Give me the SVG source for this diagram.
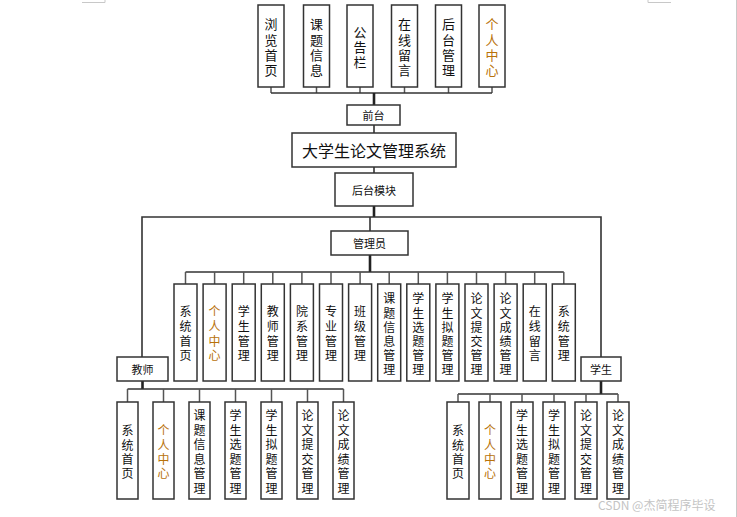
<svg xmlns="http://www.w3.org/2000/svg" width="737" height="517" viewBox="0 0 737 517">
<style>
text, tspan { font-family: "Noto Sans CJK SC", "Noto Sans", sans-serif; fill: #111; dominant-baseline: central; text-anchor: middle; }
.box { fill: #fff; stroke: #333; stroke-width: 1.5; }
.v { font-size: 12px; }
.vt { font-size: 13px; }
.h { font-size: 11px; }
.title { font-size: 16px; }
.o, .o tspan { fill: #b8720a; }
.bus { stroke: #333; stroke-width: 1.6; fill: none; }
.trunk { stroke: #222; stroke-width: 2.6; fill: none; }
.stub { stroke: #555; stroke-width: 1.5; fill: none; }
.edge { stroke: #c8c8c8; stroke-width: 1; fill: none; }
.wm { font-size: 12px; fill: #c4c4c4; text-anchor: start; }
</style>
<rect x="0" y="0" width="737" height="517" fill="#fff"/>
<g id="page-marks">
<path class="edge" d="M82,2.5 H105 V0 M648,0 V2.5 H671 M736.5,0 V517"/>
</g>
<g id="connectors">
<path class="stub" d="M271,87 V93 M316.5,87 V93 M360,87 V93 M404.5,87 V93 M448.5,87 V93 M492,87 V93"/>
<path class="bus" d="M271,93 H492"/>
<path class="trunk" d="M374,93 V105"/>
<path class="bus" d="M374,125 V133 M374,167 V173"/>
<path class="trunk" d="M374,206 V217"/>
<path class="bus" d="M142,357 V217 H601 V357 M370,217 V231"/>
<path class="trunk" d="M370,255 V272"/>
<path class="bus" d="M185.5,272 H563.8"/>
<path class="stub" d="M185.5,272 V284 M214.6,272 V284 M243.7,272 V284 M272.8,272 V284 M301.9,272 V284 M331,272 V284 M360.1,272 V284 M389.2,272 V284 M418.3,272 V284 M447.4,272 V284 M476.5,272 V284 M505.6,272 V284 M534.7,272 V284 M563.8,272 V284"/>
<path class="trunk" d="M142.5,381 V389"/>
<path class="bus" d="M127.5,389 H343.5"/>
<path class="stub" d="M127.5,389 V402 M163.5,389 V402 M199.5,389 V402 M235.5,389 V402 M271.5,389 V402 M307.5,389 V402 M343.5,389 V402"/>
<path class="trunk" d="M601,381 V394"/>
<path class="bus" d="M458,394 H618"/>
<path class="stub" d="M458,394 V402 M490,394 V402 M522,394 V402 M554,394 V402 M586,394 V402 M618,394 V402"/>
</g>

<g id="n-top1"><rect class="box" x="258" y="5" width="26" height="82"/><text class="vt" x="271" y="23.5">浏<tspan x="271" dy="15">览</tspan><tspan x="271" dy="15">首</tspan><tspan x="271" dy="15">页</tspan></text></g>
<g id="n-top2"><rect class="box" x="303.5" y="5" width="26" height="82"/><text class="vt" x="316.5" y="23.5">课<tspan x="316.5" dy="15">题</tspan><tspan x="316.5" dy="15">信</tspan><tspan x="316.5" dy="15">息</tspan></text></g>
<g id="n-top3"><rect class="box" x="347" y="5" width="26" height="82"/><text class="vt" x="360" y="31">公<tspan x="360" dy="15">告</tspan><tspan x="360" dy="15">栏</tspan></text></g>
<g id="n-top4"><rect class="box" x="391.5" y="5" width="26" height="82"/><text class="vt" x="404.5" y="23.5">在<tspan x="404.5" dy="15">线</tspan><tspan x="404.5" dy="15">留</tspan><tspan x="404.5" dy="15">言</tspan></text></g>
<g id="n-top5"><rect class="box" x="435.5" y="5" width="26" height="82"/><text class="vt" x="448.5" y="23.5">后<tspan x="448.5" dy="15">台</tspan><tspan x="448.5" dy="15">管</tspan><tspan x="448.5" dy="15">理</tspan></text></g>
<g id="n-top6"><rect class="box" x="479" y="5" width="26" height="82"/><text class="vt o" x="492" y="23.5">个<tspan x="492" dy="15">人</tspan><tspan x="492" dy="15">中</tspan><tspan x="492" dy="15">心</tspan></text></g>

<g id="n-qiantai"><rect class="box" x="347" y="105" width="53" height="20"/><text class="h" x="373.5" y="115">前台</text></g>
<g id="n-main"><rect class="box" x="292" y="133" width="164" height="34"/><text class="title" x="374" y="150">大学生论文管理系统</text></g>
<g id="n-houtai"><rect class="box" x="335" y="173" width="78" height="33"/><text class="h" x="374" y="189.5">后台模块</text></g>
<g id="n-admin"><rect class="box" x="331" y="231" width="77" height="24"/><text class="h" x="369.5" y="243">管理员</text></g>
<g id="n-teacher"><rect class="box" x="117" y="357" width="51" height="24"/><text class="h" x="142.5" y="369">教师</text></g>
<g id="n-student"><rect class="box" x="581" y="357" width="40" height="24"/><text class="h" x="601" y="369">学生</text></g>

<g id="n-a1"><rect class="box" x="174" y="284" width="23" height="97"/><text class="v" x="185.5" y="310.75">系<tspan x="185.5" dy="14.5">统</tspan><tspan x="185.5" dy="14.5">首</tspan><tspan x="185.5" dy="14.5">页</tspan></text></g>
<g id="n-a2"><rect class="box" x="203.1" y="284" width="23" height="97"/><text class="v o" x="214.6" y="310.75">个<tspan x="214.6" dy="14.5">人</tspan><tspan x="214.6" dy="14.5">中</tspan><tspan x="214.6" dy="14.5">心</tspan></text></g>
<g id="n-a3"><rect class="box" x="232.2" y="284" width="23" height="97"/><text class="v" x="243.7" y="310.75">学<tspan x="243.7" dy="14.5">生</tspan><tspan x="243.7" dy="14.5">管</tspan><tspan x="243.7" dy="14.5">理</tspan></text></g>
<g id="n-a4"><rect class="box" x="261.3" y="284" width="23" height="97"/><text class="v" x="272.8" y="310.75">教<tspan x="272.8" dy="14.5">师</tspan><tspan x="272.8" dy="14.5">管</tspan><tspan x="272.8" dy="14.5">理</tspan></text></g>
<g id="n-a5"><rect class="box" x="290.4" y="284" width="23" height="97"/><text class="v" x="301.9" y="310.75">院<tspan x="301.9" dy="14.5">系</tspan><tspan x="301.9" dy="14.5">管</tspan><tspan x="301.9" dy="14.5">理</tspan></text></g>
<g id="n-a6"><rect class="box" x="319.5" y="284" width="23" height="97"/><text class="v" x="331" y="310.75">专<tspan x="331" dy="14.5">业</tspan><tspan x="331" dy="14.5">管</tspan><tspan x="331" dy="14.5">理</tspan></text></g>
<g id="n-a7"><rect class="box" x="348.6" y="284" width="23" height="97"/><text class="v" x="360.1" y="310.75">班<tspan x="360.1" dy="14.5">级</tspan><tspan x="360.1" dy="14.5">管</tspan><tspan x="360.1" dy="14.5">理</tspan></text></g>
<g id="n-a8"><rect class="box" x="377.7" y="284" width="23" height="97"/><text class="v" x="389.2" y="297.5">课<tspan x="389.2" dy="14">题</tspan><tspan x="389.2" dy="14">信</tspan><tspan x="389.2" dy="14">息</tspan><tspan x="389.2" dy="14">管</tspan><tspan x="389.2" dy="14">理</tspan></text></g>
<g id="n-a9"><rect class="box" x="406.8" y="284" width="23" height="97"/><text class="v" x="418.3" y="297.5">学<tspan x="418.3" dy="14">生</tspan><tspan x="418.3" dy="14">选</tspan><tspan x="418.3" dy="14">题</tspan><tspan x="418.3" dy="14">管</tspan><tspan x="418.3" dy="14">理</tspan></text></g>
<g id="n-a10"><rect class="box" x="435.9" y="284" width="23" height="97"/><text class="v" x="447.4" y="297.5">学<tspan x="447.4" dy="14">生</tspan><tspan x="447.4" dy="14">拟</tspan><tspan x="447.4" dy="14">题</tspan><tspan x="447.4" dy="14">管</tspan><tspan x="447.4" dy="14">理</tspan></text></g>
<g id="n-a11"><rect class="box" x="465" y="284" width="23" height="97"/><text class="v" x="476.5" y="297.5">论<tspan x="476.5" dy="14">文</tspan><tspan x="476.5" dy="14">提</tspan><tspan x="476.5" dy="14">交</tspan><tspan x="476.5" dy="14">管</tspan><tspan x="476.5" dy="14">理</tspan></text></g>
<g id="n-a12"><rect class="box" x="494.1" y="284" width="23" height="97"/><text class="v" x="505.6" y="297.5">论<tspan x="505.6" dy="14">文</tspan><tspan x="505.6" dy="14">成</tspan><tspan x="505.6" dy="14">绩</tspan><tspan x="505.6" dy="14">管</tspan><tspan x="505.6" dy="14">理</tspan></text></g>
<g id="n-a13"><rect class="box" x="523.2" y="284" width="23" height="97"/><text class="v" x="534.7" y="310.75">在<tspan x="534.7" dy="14.5">线</tspan><tspan x="534.7" dy="14.5">留</tspan><tspan x="534.7" dy="14.5">言</tspan></text></g>
<g id="n-a14"><rect class="box" x="552.3" y="284" width="23" height="97"/><text class="v" x="563.8" y="310.75">系<tspan x="563.8" dy="14.5">统</tspan><tspan x="563.8" dy="14.5">管</tspan><tspan x="563.8" dy="14.5">理</tspan></text></g>

<g id="n-t1"><rect class="box" x="117" y="402" width="21" height="97"/><text class="v" x="127.5" y="429.5">系<tspan x="127.5" dy="14">统</tspan><tspan x="127.5" dy="14">首</tspan><tspan x="127.5" dy="14">页</tspan></text></g>
<g id="n-t2"><rect class="box" x="153" y="402" width="21" height="97"/><text class="v o" x="163.5" y="429.5">个<tspan x="163.5" dy="14">人</tspan><tspan x="163.5" dy="14">中</tspan><tspan x="163.5" dy="14">心</tspan></text></g>
<g id="n-t3"><rect class="box" x="189" y="402" width="21" height="97"/><text class="v" x="199.5" y="414.5">课<tspan x="199.5" dy="14.4">题</tspan><tspan x="199.5" dy="14.4">信</tspan><tspan x="199.5" dy="14.4">息</tspan><tspan x="199.5" dy="14.4">管</tspan><tspan x="199.5" dy="14.4">理</tspan></text></g>
<g id="n-t4"><rect class="box" x="225" y="402" width="21" height="97"/><text class="v" x="235.5" y="414.5">学<tspan x="235.5" dy="14.4">生</tspan><tspan x="235.5" dy="14.4">选</tspan><tspan x="235.5" dy="14.4">题</tspan><tspan x="235.5" dy="14.4">管</tspan><tspan x="235.5" dy="14.4">理</tspan></text></g>
<g id="n-t5"><rect class="box" x="261" y="402" width="21" height="97"/><text class="v" x="271.5" y="414.5">学<tspan x="271.5" dy="14.4">生</tspan><tspan x="271.5" dy="14.4">拟</tspan><tspan x="271.5" dy="14.4">题</tspan><tspan x="271.5" dy="14.4">管</tspan><tspan x="271.5" dy="14.4">理</tspan></text></g>
<g id="n-t6"><rect class="box" x="297" y="402" width="21" height="97"/><text class="v" x="307.5" y="414.5">论<tspan x="307.5" dy="14.4">文</tspan><tspan x="307.5" dy="14.4">提</tspan><tspan x="307.5" dy="14.4">交</tspan><tspan x="307.5" dy="14.4">管</tspan><tspan x="307.5" dy="14.4">理</tspan></text></g>
<g id="n-t7"><rect class="box" x="333" y="402" width="21" height="97"/><text class="v" x="343.5" y="414.5">论<tspan x="343.5" dy="14.4">文</tspan><tspan x="343.5" dy="14.4">成</tspan><tspan x="343.5" dy="14.4">绩</tspan><tspan x="343.5" dy="14.4">管</tspan><tspan x="343.5" dy="14.4">理</tspan></text></g>

<g id="n-s1"><rect class="box" x="447" y="402" width="22" height="97"/><text class="v" x="458" y="429.5">系<tspan x="458" dy="14">统</tspan><tspan x="458" dy="14">首</tspan><tspan x="458" dy="14">页</tspan></text></g>
<g id="n-s2"><rect class="box" x="479" y="402" width="22" height="97"/><text class="v o" x="490" y="429.5">个<tspan x="490" dy="14">人</tspan><tspan x="490" dy="14">中</tspan><tspan x="490" dy="14">心</tspan></text></g>
<g id="n-s3"><rect class="box" x="511" y="402" width="22" height="97"/><text class="v" x="522" y="414.5">学<tspan x="522" dy="14.4">生</tspan><tspan x="522" dy="14.4">选</tspan><tspan x="522" dy="14.4">题</tspan><tspan x="522" dy="14.4">管</tspan><tspan x="522" dy="14.4">理</tspan></text></g>
<g id="n-s4"><rect class="box" x="543" y="402" width="22" height="97"/><text class="v" x="554" y="414.5">学<tspan x="554" dy="14.4">生</tspan><tspan x="554" dy="14.4">拟</tspan><tspan x="554" dy="14.4">题</tspan><tspan x="554" dy="14.4">管</tspan><tspan x="554" dy="14.4">理</tspan></text></g>
<g id="n-s5"><rect class="box" x="575" y="402" width="22" height="97"/><text class="v" x="586" y="414.5">论<tspan x="586" dy="14.4">文</tspan><tspan x="586" dy="14.4">提</tspan><tspan x="586" dy="14.4">交</tspan><tspan x="586" dy="14.4">管</tspan><tspan x="586" dy="14.4">理</tspan></text></g>
<g id="n-s6"><rect class="box" x="607" y="402" width="22" height="97"/><text class="v" x="618" y="414.5">论<tspan x="618" dy="14.4">文</tspan><tspan x="618" dy="14.4">成</tspan><tspan x="618" dy="14.4">绩</tspan><tspan x="618" dy="14.4">管</tspan><tspan x="618" dy="14.4">理</tspan></text></g>

<g id="watermark"><text class="wm" x="598" y="504">CSDN @杰简程序毕设</text></g>
</svg>
